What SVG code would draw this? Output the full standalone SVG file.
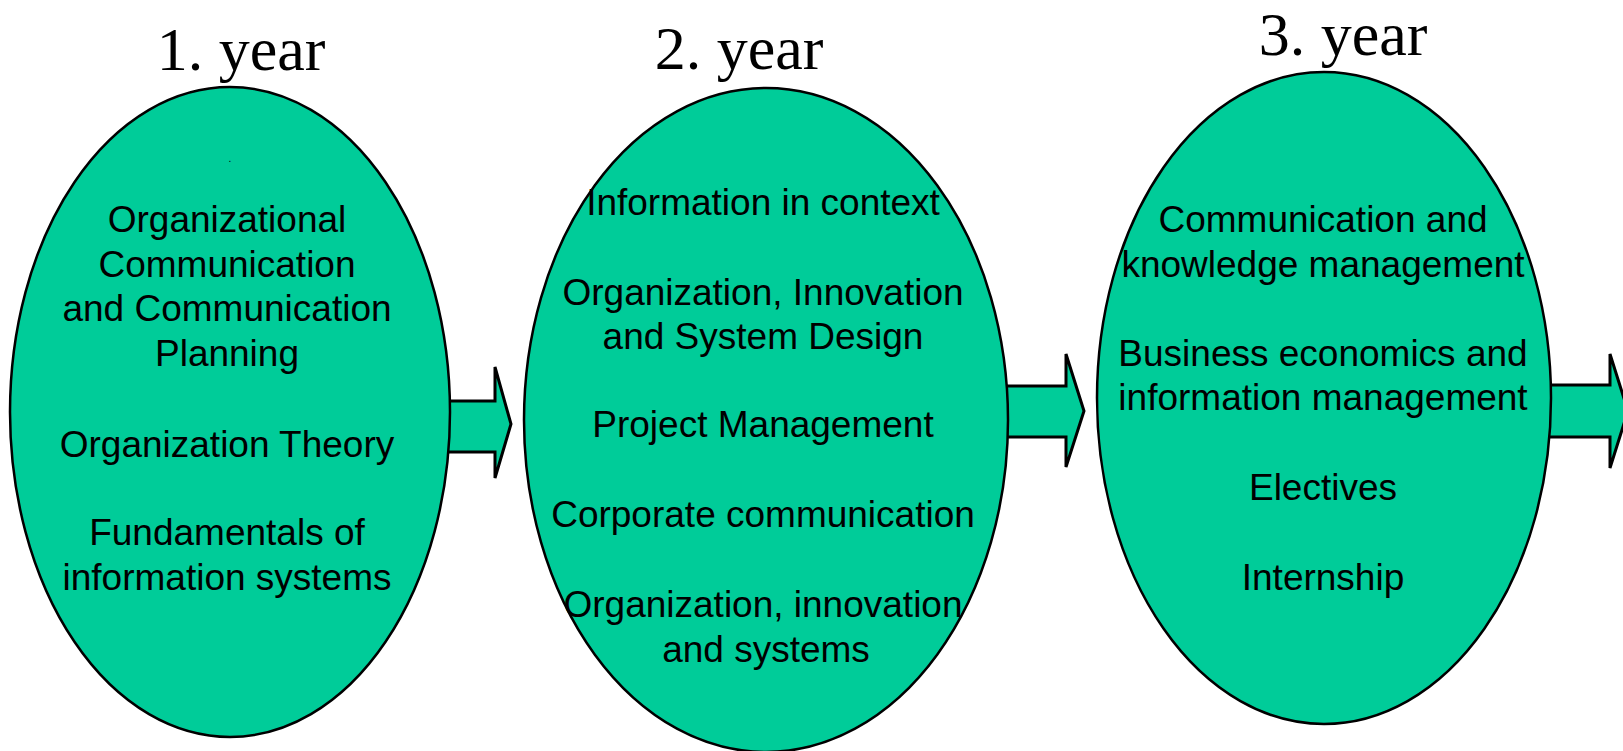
<svg xmlns="http://www.w3.org/2000/svg" width="1623" height="751" viewBox="0 0 1623 751">
<style>
.node{fill:#00CC99;stroke:#000;stroke-width:2.5}
.arrow{fill:#00CC99;stroke:#000;stroke-width:3;stroke-linejoin:miter}
.t{font-family:"Liberation Sans",Arial,sans-serif;font-size:37px;fill:#000;text-anchor:middle}
.title{font-family:"Liberation Serif","Times New Roman",serif;font-size:62px;fill:#000;text-anchor:middle}
</style>
<rect width="1623" height="751" fill="#fff"/>
<g id="titles">
<text class="title" x="241" y="70">1. year</text>
<text class="title" x="739" y="69">2. year</text>
<text class="title" x="1343" y="55">3. year</text>
</g>
<g id="connectors">
<polygon class="arrow" points="420,401 495,401 495,367 511,424 495,478 495,452 420,452"/>
<polygon class="arrow" points="990,386 1066,386 1066,354 1084,411 1066,467 1066,437 990,437"/>
<polygon class="arrow" points="1535,385 1610,385 1610,354 1628,411 1610,468 1610,437 1535,437"/>
</g>
<g id="year1">
<ellipse class="node" cx="230" cy="412" rx="220" ry="325"/>
<text class="t" x="230" y="162" style="font-size:10px">.</text>
<text class="t" x="227" y="232">Organizational</text>
<text class="t" x="227" y="276.5">Communication</text>
<text class="t" x="227" y="321">and Communication</text>
<text class="t" x="227" y="365.5">Planning</text>
<text class="t" x="227" y="457">Organization Theory</text>
<text class="t" x="227" y="545">Fundamentals of</text>
<text class="t" x="227" y="590">information systems</text>
</g>
<g id="year2">
<ellipse class="node" cx="766" cy="420" rx="242" ry="332"/>
<text class="t" x="763" y="215">Information in context</text>
<text class="t" x="763" y="304.5">Organization, Innovation</text>
<text class="t" x="763" y="349">and System Design</text>
<text class="t" x="763" y="437">Project Management</text>
<text class="t" x="763" y="527">Corporate communication</text>
<text class="t" x="763" y="617">Organization, innovation</text>
<text class="t" x="766" y="662">and systems</text>
</g>
<g id="year3">
<ellipse class="node" cx="1324" cy="398" rx="227" ry="326"/>
<text class="t" x="1323" y="232">Communication and</text>
<text class="t" x="1323" y="276.5">knowledge management</text>
<text class="t" x="1323" y="365.5">Business economics and</text>
<text class="t" x="1323" y="410">information management</text>
<text class="t" x="1323" y="500">Electives</text>
<text class="t" x="1323" y="590">Internship</text>
</g>
</svg>
